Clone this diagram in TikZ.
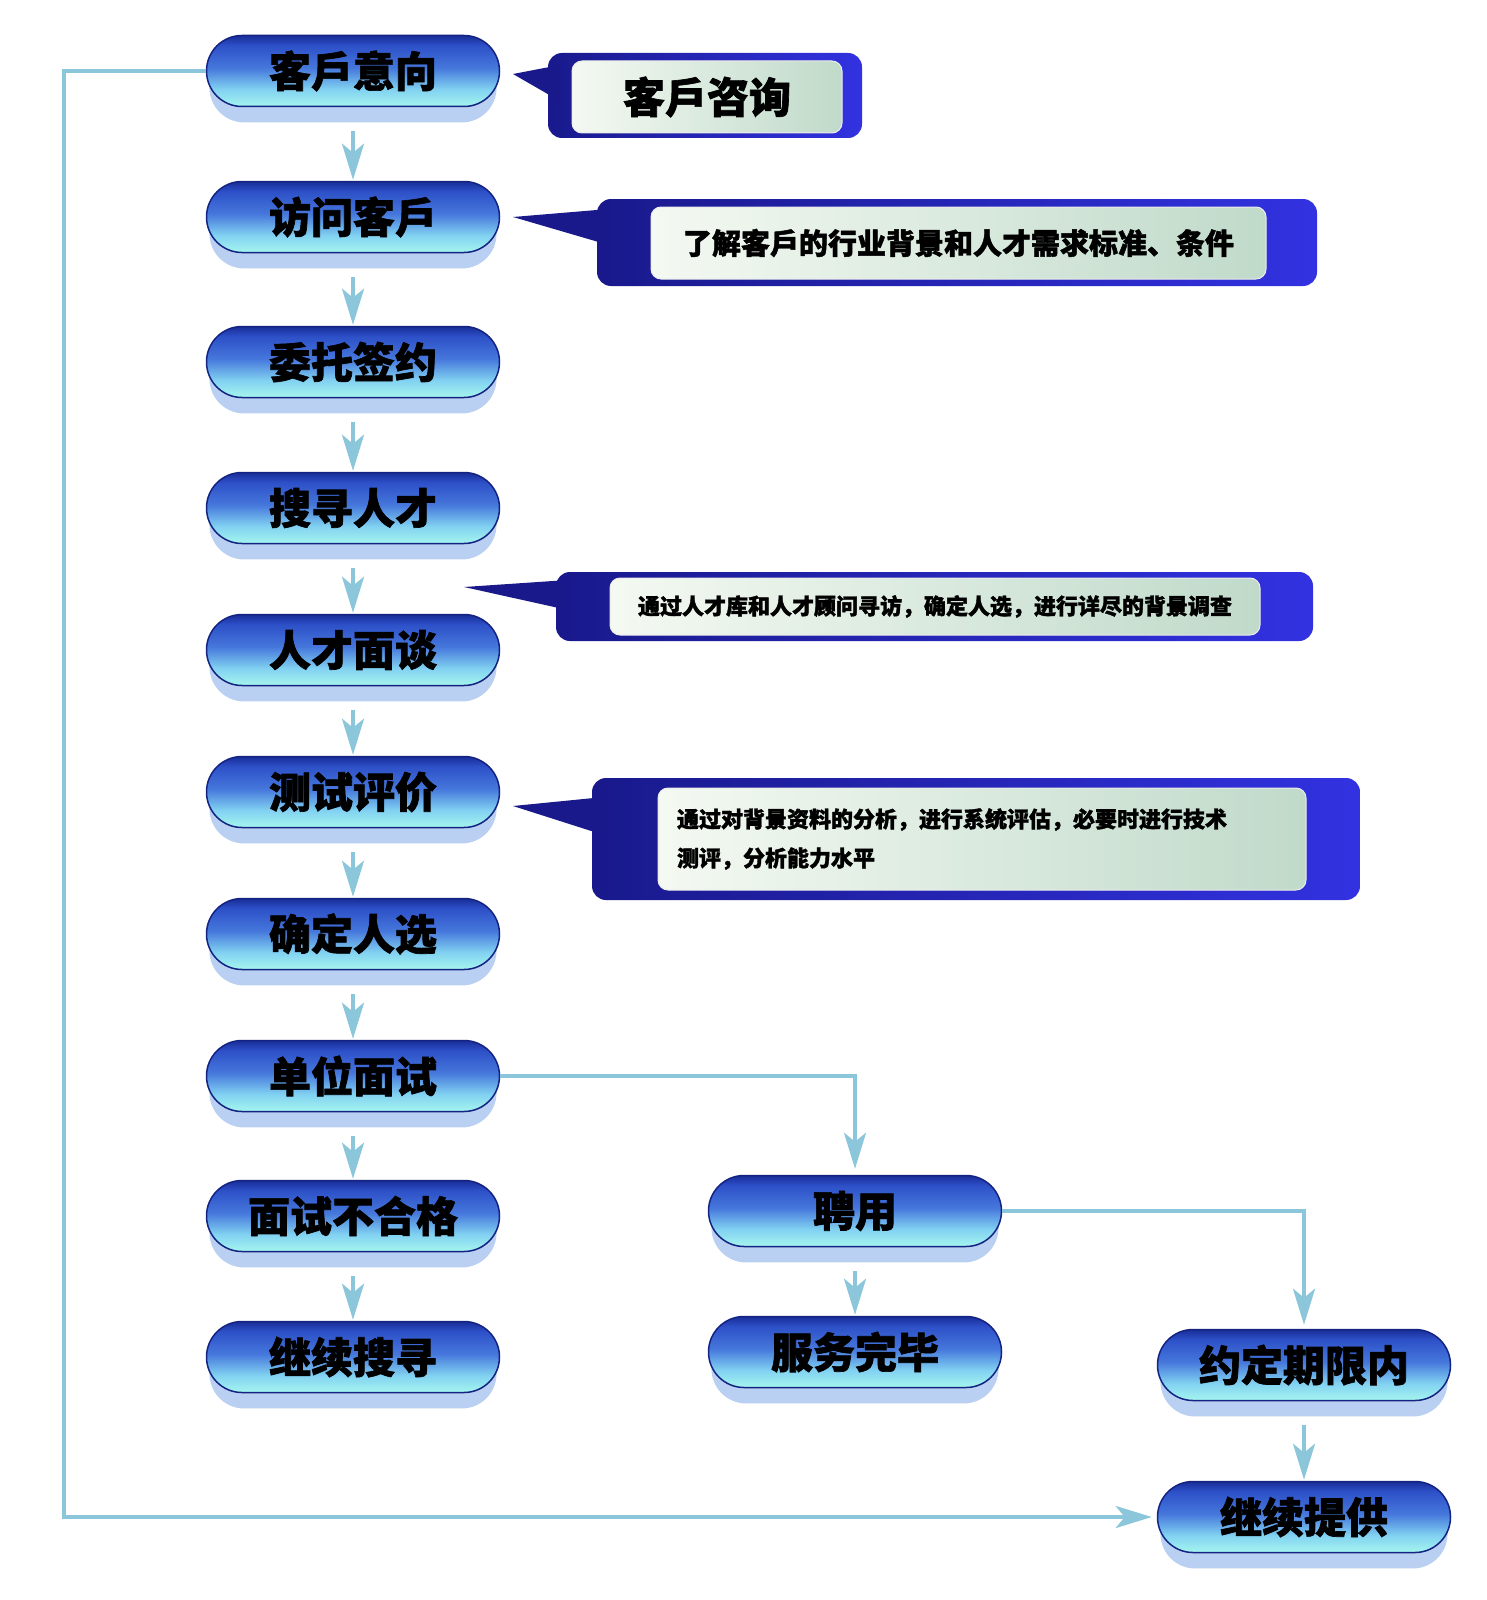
\documentclass[tikz,border=0pt]{standalone}
\usepackage{fontspec}
\newfontfamily\cjk[BoldFeatures={FakeBold=1.6}]{Noto Sans CJK SC}
\usetikzlibrary{shapes.misc,shadows,arrows.meta,calc}
\definecolor{arrc}{RGB}{140,198,218}
\definecolor{pc1}{RGB}{165,245,238}
\definecolor{pc2}{RGB}{130,210,242}
\definecolor{pc3}{RGB}{70,120,220}
\definecolor{pc4}{RGB}{45,80,200}
\definecolor{pc5}{RGB}{25,45,150}
\definecolor{pedge}{RGB}{20,35,130}
\definecolor{pshadow}{RGB}{185,208,242}
\definecolor{cdark}{RGB}{25,25,140}
\definecolor{cblue}{RGB}{50,50,225}
\definecolor{cin1}{RGB}{244,249,242}
\definecolor{cin2}{RGB}{192,218,202}
\pgfdeclareverticalshading{pillshade}{100bp}{color(0bp)=(pc1); color(25bp)=(pc1); color(37bp)=(pc2); color(52bp)=(pc3); color(68bp)=(pc4); color(75bp)=(pc5); color(100bp)=(pc5)}
\tikzset{
  pill/.style={rounded rectangle, minimum width=293pt, minimum height=71pt, inner sep=0pt,
    shading=pillshade, draw=pedge, line width=1.5pt, text=black,
    font=\cjk\bfseries\fontsize{42}{42}\selectfont,
    drop shadow={shadow xshift=0pt, shadow yshift=-17pt, shadow scale=0.98, fill=pshadow, opacity=1}},
  arr/.style={draw=arrc, line width=4pt, -{Stealth[length=36pt,width=22pt,inset=9pt]}},
  cbox/.style={rectangle, rounded corners=14pt, left color=cdark, right color=cblue, draw=none, inner sep=0pt},
  cin/.style={rectangle, rounded corners=10pt, left color=cin1, right color=cin2, draw=white!85!gray, line width=1pt, inner sep=0pt, text=black},
  tail/.style={fill=cdark}
}
\begin{document}
\begin{tikzpicture}[x=1pt,y=-1pt]
\fill[white] (0,0) rectangle (1487,1600);
\useasboundingbox (0,0) rectangle (1487,1600);

% left column
\node[pill] (a1) at (353,71) {客戶意向};
\node[pill] (a2) at (353,217) {访问客戶};
\node[pill] (a3) at (353,362) {委托签约};
\node[pill] (a4) at (353,508) {搜寻人才};
\node[pill] (a5) at (353,650) {人才面谈};
\node[pill] (a6) at (353,792) {测试评价};
\node[pill] (a7) at (353,934) {确定人选};
\node[pill] (a8) at (353,1076) {单位面试};
\node[pill] (a9) at (353,1216) {面试不合格};
\node[pill] (a10) at (353,1357) {继续搜寻};
% middle
\node[pill] (p1) at (855,1211) {聘用};
\node[pill] (p2) at (855,1352) {服务完毕};
% right
\node[pill] (r1) at (1304,1365) {约定期限内};
\node[pill] (r2) at (1304,1517) {继续提供};

% arrows
\foreach \i/\j in {a1/a2,a2/a3,a3/a4,a4/a5,a5/a6,a6/a7,a7/a8,a8/a9,a9/a10,p1/p2,r1/r2}
  \draw[arr, shorten <=24pt, shorten >=1pt] (\i.south) -- (\j.north);
\draw[arr, shorten >=6pt] (a8.east) -| (p1.north);
\draw[arr, shorten >=4pt] (p1.east) -| (r1.north);
\coordinate (fb) at (64,71);
\draw[arr, shorten >=5pt] (a1.west) -- (fb) |- (r2.west);

% callout 1
\coordinate (t1) at (513,74);
\node[cbox, minimum width=314pt, minimum height=85pt] (c1o) at (705,95.5) {};
\fill[tail] (t1) -- ($(t1 -| c1o.west)+(12,-9)$) -- ($(t1 -| c1o.west)+(12,27)$) -- cycle;
\node[cin, minimum width=270pt, minimum height=72pt, font=\cjk\bfseries\fontsize{42}{42}\selectfont] (c1) at (707,97) {客戶咨询};

% callout 2
\coordinate (t2) at (513,217);
\node[cbox, minimum width=720pt, minimum height=87pt] (c2o) at (957,242.5) {};
\fill[tail] (t2) -- ($(t2 -| c2o.west)+(12,-8)$) -- ($(t2 -| c2o.west)+(12,28)$) -- cycle;
\node[cin, minimum width=615pt, minimum height=72pt, font=\cjk\bfseries\fontsize{29}{29}\selectfont] (c2) at (958.5,243) {了解客戶的行业背景和人才需求标准、条件};

% callout 3
\coordinate (t3) at (464,587);
\node[cbox, minimum width=757pt, minimum height=69pt] (c3o) at (934.5,606.5) {};
\fill[tail] (t3) -- ($(t3 -| c3o.west)+(12,-7)$) -- ($(t3 -| c3o.west)+(12,23)$) -- cycle;
\node[cin, minimum width=650pt, minimum height=57pt, font=\cjk\bfseries\fontsize{22}{22}\selectfont] (c3) at (935,606.5) {通过人才库和人才顾问寻访，确定人选，进行详尽的背景调查};

% callout 4
\coordinate (t4) at (513,806);
\node[cbox, minimum width=768pt, minimum height=122pt] (c4o) at (976,839) {};
\fill[tail] (t4) -- ($(t4 -| c4o.west)+(12,-9)$) -- ($(t4 -| c4o.west)+(12,29)$) -- cycle;
\node[cin, minimum width=648pt, minimum height=102pt, text width=610pt, align=left,
  font=\cjk\bfseries\fontsize{22}{39}\selectfont] (c4) at (982,839) {通过对背景资料的分析，进行系统评估，必要时进行技术\\测评，分析能力水平};
\end{tikzpicture}
\end{document}
